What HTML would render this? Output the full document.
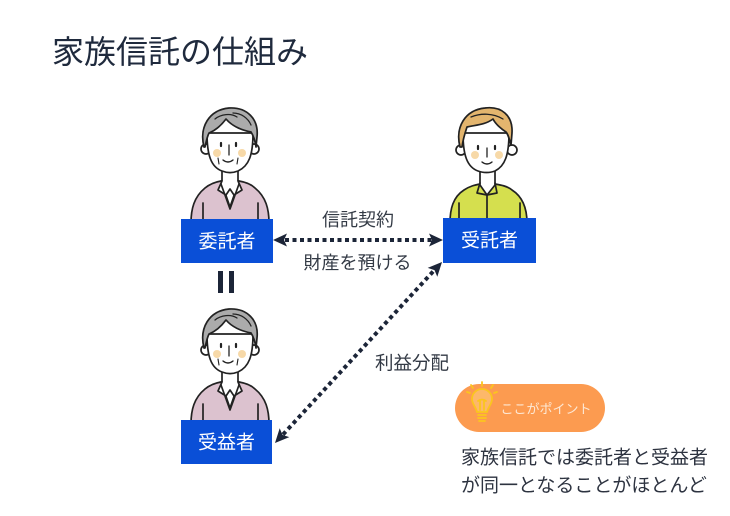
<!DOCTYPE html>
<html><head><meta charset="utf-8">
<style>
html,body{margin:0;padding:0;background:#fff;}
svg{display:block;}
text{font-family:"Liberation Sans","Noto Sans CJK JP",sans-serif;}
</style></head>
<body>
<svg width="730" height="516" viewBox="0 0 730 516" xmlns="http://www.w3.org/2000/svg">
<rect width="730" height="516" fill="#fff"/>

<text x="52" y="63" font-size="32" fill="#1f2a3d">家族信託の仕組み</text>

<!-- Elder figure (top) -->
<g id="elder" transform="translate(185,105)" stroke="#222" stroke-width="1.7" stroke-linecap="round" stroke-linejoin="round">
  <path d="M6,118 C6,104 9,92 20,83 C25,79 30,77 36,76 L54,76 C60,77 66,79 70,83 C81,92 84,104 84,118 Z" fill="#dcc2cf"/>
  <path d="M36,76 L45,102 L54,76 Z" fill="#fff"/>
  <path d="M37,60 L37,78 L45,84 L53,78 L53,60" fill="#fff"/>
  <path d="M37,76 L33,85 L41,90 L45,84 L49,90 L57,85 L53,76" fill="#fff"/>
  <path d="M36,79 L45,104 L54,79" fill="none"/>
  <path d="M18,98 L18,116 M73,98 L73,116" fill="none"/>
  <circle cx="21" cy="44" r="5" fill="#fff"/>
  <circle cx="69" cy="44" r="5" fill="#fff"/>
  <path d="M22,28 C22,50 26,62 37,66 C42,68 48,68 53,66 C64,61 68,50 68,28 Z" fill="#fff"/>
  <path d="M19,42 C14,22 24,5 44,3 C62,2 74,14 72,32 L71,42 C70,35 68,30 66,27 C56,25 47,21 41,14 C35,22 29,26 24,28 C22,32 21,37 20,42 Z" fill="#ababab"/>
  <path d="M30,14 C36,9 46,8 52,12 M48,8 C56,8 63,13 66,20" fill="none" stroke-width="1.3"/>
  <circle cx="32" cy="48" r="4" fill="#f7d9a8" stroke="none"/>
  <circle cx="57" cy="48" r="4" fill="#f7d9a8" stroke="none"/>
  <path d="M36,38 L36,41 M51,38 L51,41" fill="none" stroke-width="2.2"/>
  <path d="M44,40 L44,50" fill="none" stroke-width="1.3"/>
  <path d="M38,55 Q43,59 48,55" fill="none" stroke-width="1.4"/>
  <path d="M33,53 L34,59 M53,53 L52,59" fill="none" stroke-width="1.1"/>
</g>

<!-- Elder figure (bottom) -->
<g transform="translate(0,201)">
<g transform="translate(185,105)" stroke="#222" stroke-width="1.7" stroke-linecap="round" stroke-linejoin="round">
  <path d="M6,118 C6,104 9,92 20,83 C25,79 30,77 36,76 L54,76 C60,77 66,79 70,83 C81,92 84,104 84,118 Z" fill="#dcc2cf"/>
  <path d="M36,76 L45,102 L54,76 Z" fill="#fff"/>
  <path d="M37,60 L37,78 L45,84 L53,78 L53,60" fill="#fff"/>
  <path d="M37,76 L33,85 L41,90 L45,84 L49,90 L57,85 L53,76" fill="#fff"/>
  <path d="M36,79 L45,104 L54,79" fill="none"/>
  <path d="M18,98 L18,116 M73,98 L73,116" fill="none"/>
  <circle cx="21" cy="44" r="5" fill="#fff"/>
  <circle cx="69" cy="44" r="5" fill="#fff"/>
  <path d="M22,28 C22,50 26,62 37,66 C42,68 48,68 53,66 C64,61 68,50 68,28 Z" fill="#fff"/>
  <path d="M19,42 C14,22 24,5 44,3 C62,2 74,14 72,32 L71,42 C70,35 68,30 66,27 C56,25 47,21 41,14 C35,22 29,26 24,28 C22,32 21,37 20,42 Z" fill="#ababab"/>
  <path d="M30,14 C36,9 46,8 52,12 M48,8 C56,8 63,13 66,20" fill="none" stroke-width="1.3"/>
  <circle cx="32" cy="48" r="4" fill="#f7d9a8" stroke="none"/>
  <circle cx="57" cy="48" r="4" fill="#f7d9a8" stroke="none"/>
  <path d="M36,38 L36,41 M51,38 L51,41" fill="none" stroke-width="2.2"/>
  <path d="M44,40 L44,50" fill="none" stroke-width="1.3"/>
  <path d="M38,55 Q43,59 48,55" fill="none" stroke-width="1.4"/>
  <path d="M33,53 L34,59 M53,53 L52,59" fill="none" stroke-width="1.1"/>
</g>
</g>

<!-- Young figure -->
<g transform="translate(445,105)" stroke="#222" stroke-width="1.7" stroke-linecap="round" stroke-linejoin="round">
  <path d="M5,118 C5,104 8,92 19,85 C25,81 30,80 35,79 L50,79 C56,80 62,81 67,85 C78,92 82,104 82,118 Z" fill="#d5df4e"/>
  <path d="M35,62 L35,80 L42,90 L50,80 L50,62" fill="#fff"/>
  <path d="M35,78 L32,88 L42,90 L52,88 L50,78" fill="none"/>
  <path d="M42,90 L42,116" fill="none"/>
  <path d="M14,98 L14,116 M75,98 L75,116" fill="none"/>
  <circle cx="16" cy="45" r="5" fill="#fff"/>
  <circle cx="67" cy="45" r="5" fill="#fff"/>
  <path d="M18,28 C18,50 22,62 33,66 C38,68 45,68 50,66 C60,61 64,50 64,28 Z" fill="#fff"/>
  <path d="M15,42 C10,22 20,5 40,3 C56,1 68,10 67,28 L66,40 C64,33 63,29 61,27 C55,23 50,18 48,14 C40,20 30,20 22,22 C20,28 18,34 17,42 Z" fill="#e3b56e"/>
  <path d="M26,12 C36,8 48,8 58,14" fill="none" stroke-width="1.3"/>
  <circle cx="30" cy="50" r="4" fill="#f7d9a8" stroke="none"/>
  <circle cx="54" cy="50" r="4" fill="#f7d9a8" stroke="none"/>
  <path d="M33,41 L33,44 M50,41 L50,44" fill="none" stroke-width="2.2"/>
  <path d="M42,43 L42,52" fill="none" stroke-width="1.3"/>
  <path d="M37,57 Q42,61 47,57" fill="none" stroke-width="1.4"/>
</g>

<!-- Boxes -->
<rect x="181" y="219" width="92" height="44" fill="#0a4fd7"/>
<text x="227" y="242" font-size="19" fill="#fff" text-anchor="middle" dominant-baseline="central">委託者</text>
<rect x="443" y="218" width="93" height="45" fill="#0a4fd7"/>
<text x="489.5" y="241" font-size="19" fill="#fff" text-anchor="middle" dominant-baseline="central">受託者</text>
<rect x="181" y="420" width="91" height="44" fill="#0a4fd7"/>
<text x="226.5" y="443" font-size="19" fill="#fff" text-anchor="middle" dominant-baseline="central">受益者</text>

<!-- equals -->
<rect x="218" y="271" width="5" height="22" fill="#1c2538"/>
<rect x="229" y="271" width="5" height="22" fill="#1c2538"/>

<!-- horizontal arrow -->
<line x1="285" y1="240" x2="432" y2="240" stroke="#1c2538" stroke-width="4" stroke-dasharray="4 3.5"/>
<polygon points="273,240 287,233.5 284,240 287,246.5" fill="#1c2538"/>
<polygon points="443,240 429,233.5 432,240 429,246.5" fill="#1c2538"/>

<!-- diagonal arrow -->
<line x1="283" y1="434.5" x2="434" y2="270.5" stroke="#1c2538" stroke-width="4" stroke-dasharray="4 3.5"/>
<polygon points="442,262 437.3,276.7 434.5,270.1 427.7,267.9" fill="#1c2538"/>
<polygon points="275,443 289.3,437.1 282.5,434.9 279.7,428.3" fill="#1c2538"/>

<!-- labels -->
<text x="358" y="220" font-size="18" fill="#333a45" text-anchor="middle" dominant-baseline="central">信託契約</text>
<text x="357.5" y="263" font-size="18" fill="#333a45" text-anchor="middle" dominant-baseline="central">財産を預ける</text>
<text x="412" y="363" font-size="18.5" fill="#333a45" text-anchor="middle" dominant-baseline="central">利益分配</text>

<!-- pill -->
<rect x="455" y="384" width="150" height="48" rx="24" fill="#fc9b50"/>
<g stroke="#fbc51e" stroke-width="1.8" fill="none" stroke-linecap="round">
  <path d="M477,412 C476,407 472,404 472,399 C472,393 477,389 482,389 C487,389 492,393 492,399 C492,404 488,407 487,412 Z" fill="#fdb86a"/>
  <path d="M478,415 L486,415 M478,418 L486,418 M479,421 L485,421"/>
  <path d="M480,410 L480,401 M484,410 L484,401 M478,401 Q482,398 486,401"/>
  <path d="M471,385 L473,388 M482,382 L482,386 M493,385 L491,388 M467,392 L470,393 M497,392 L494,393"/>
</g>
<text x="546" y="409" font-size="13" fill="#fde8d4" text-anchor="middle" dominant-baseline="central">ここがポイント</text>

<!-- bottom text -->
<text x="461" y="458" font-size="19" fill="#2d3340" dominant-baseline="central">家族信託では委託者と受益者</text>
<text x="461" y="486" font-size="19" fill="#2d3340" dominant-baseline="central">が同一となることがほとんど</text>
</svg>
</body></html>
